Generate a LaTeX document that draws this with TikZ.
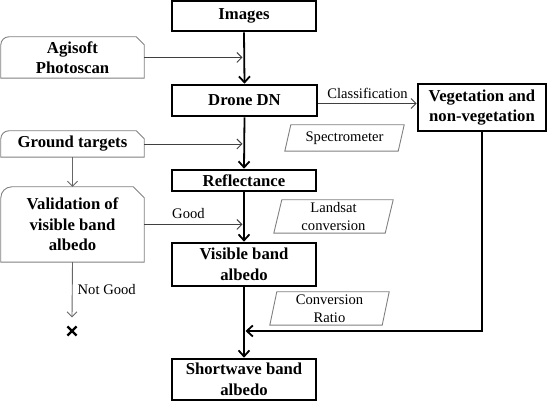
\documentclass[tikz,border=0pt]{standalone}
\usepackage{fontspec}
\setmainfont{Liberation Serif}
\usetikzlibrary{arrows.meta,shapes.misc}
\newcommand\snipoutline[2]{\draw[sideline] (#1.south west) -- ([yshift=-#2]#1.north west) arc[start angle=180,end angle=90,radius=#2] -- ([xshift=-#2]#1.north east) -- ([yshift=-#2]#1.north east) -- (#1.south east) -- cycle;}
\newcommand\paraoutline[2]{\draw[sideline] (#1.south west) -- ([xshift=#2]#1.north west) -- (#1.north east) -- ([xshift=-#2]#1.south east) -- cycle;}
\begin{document}
\begin{tikzpicture}[x=1pt,y=1pt,
  mainbox/.style={draw, line width=2.6pt, font=\fontsize{16.7}{20.5}\selectfont\bfseries, align=center, inner sep=0pt},
  sidebox/.style={font=\fontsize{16.7}{20.5}\selectfont\bfseries, align=center, inner sep=0pt},
  sideline/.style={draw=black!50, line width=0.9pt},
  para/.style={font=\fontsize{14.6}{17.5}\selectfont, align=center, inner sep=0pt},
  lab/.style={font=\fontsize{14.6}{17.5}\selectfont, inner sep=0pt},
  mainarrow/.style={line width=1.8pt, -{Straight Barb[length=6pt,width=11pt]}},
  thinarrow/.style={line width=0.9pt, draw=black!75, -{Straight Barb[length=5pt,width=10pt]}},
]
\useasboundingbox (0,0) rectangle (550,410);
% main column
\node[mainbox, minimum width=144pt, minimum height=30pt] (img) at (244,394) {Images};
\node[mainbox, minimum width=145pt, minimum height=31pt] (dn) at (244.5,309.5) {Drone DN};
\node[mainbox, minimum width=144pt, minimum height=21pt] (refl) at (244,229.5) {Reflectance};
\node[mainbox, minimum width=144pt, minimum height=43pt] (vis) at (244,145.5) {Visible band\\albedo};
\node[mainbox, minimum width=144pt, minimum height=41pt] (sw) at (244,30.5) {Shortwave band\\albedo};
\node[mainbox, minimum width=128pt, minimum height=47pt] (veg) at (482,302.5) {Vegetation and\\non-vegetation};
% side boxes
\node[sidebox, minimum width=143pt, minimum height=41pt] (ag) at (72.5,352.5) {Agisoft\\Photoscan};
\node[sidebox, minimum width=143pt, minimum height=26pt] (gt) at (72.5,266) {Ground targets};
\node[sidebox, minimum width=143pt, minimum height=75pt] (val) at (72.5,185.5) {Validation of\\visible band\\albedo};
\snipoutline{ag}{8pt}
\snipoutline{gt}{8pt}
\snipoutline{val}{11pt}
% parallelograms
\node[para, minimum width=119pt, minimum height=26pt] (spec) at (344.5,272) {Spectrometer};
\node[para, minimum width=119pt, minimum height=33pt] (land) at (333.5,193.5) {Landsat\\conversion};
\node[para, minimum width=119pt, minimum height=33pt] (conv) at (329.5,101.5) {Conversion\\Ratio};
\paraoutline{spec}{6pt}
\paraoutline{land}{8pt}
\paraoutline{conv}{7pt}
% cross
\node[cross out, draw, line width=2.2pt, minimum size=7pt, inner sep=0pt] (xn) at (72,79) {};
\coordinate (m) at (244,79);
\coordinate (cls) at ([yshift=-3pt]dn.east);
% main arrows
\draw[mainarrow] (img.south) -- (dn.north);
\draw[mainarrow] (dn.south) -- (refl.north);
\draw[mainarrow] (refl.south) -- (vis.north);
\draw[mainarrow] (vis.south) -- (sw.north);
\draw[mainarrow] (veg.south) |- ([xshift=1.5pt]m);
% side arrows
\draw[thinarrow] (ag.east) -- ([xshift=-1.5pt]img.south |- ag.east);
\draw[thinarrow] (gt.east) -- ([xshift=-1.5pt]img.south |- gt.east);
\draw[thinarrow] (val.east) -- node[lab, above=5pt, pos=0.45] {Good} ([xshift=-1.5pt]img.south |- val.east);
\draw[thinarrow, draw=black!60] (gt.south) -- (val.north);
\draw[thinarrow, draw=black!60] (val.south) -- node[lab, right=5pt, pos=0.5] {Not Good} ([yshift=9pt]xn.north);
\draw[thinarrow] (cls) -- node[lab, above=4pt] {Classification} (veg.west |- cls);
\end{tikzpicture}
\end{document}
